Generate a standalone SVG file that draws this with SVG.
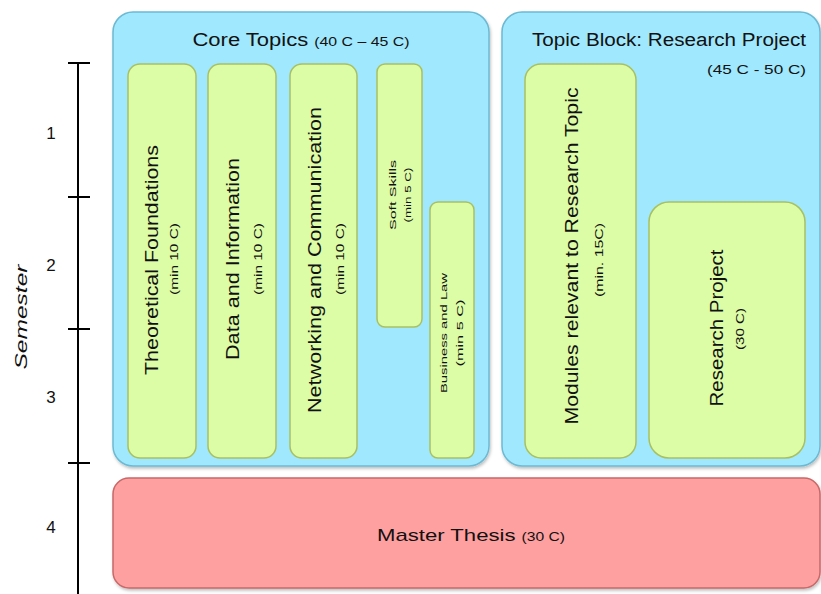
<svg xmlns="http://www.w3.org/2000/svg" width="821" height="594" viewBox="0 0 821 594">
<style>
text{font-family:"Liberation Sans","DejaVu Sans",sans-serif;fill:#111}
.cont{fill:#a0e8fd;stroke:#6cb9d3;stroke-width:1.5}
.mod{fill:#dcfca6;stroke:#a8c060;stroke-width:1.5}
.thesis{fill:#ffa0a0;stroke:#c86868;stroke-width:1.5}
.axis{stroke:#000;stroke-width:2;fill:none}
.big{font-size:18px}
.sub{font-size:11px}
.tiny{font-size:9px}
.num{font-size:17px}
</style>
<defs>
<filter id="sh" x="-5%" y="-5%" width="110%" height="110%">
<feDropShadow dx="1" dy="2" stdDeviation="1.5" flood-color="#000" flood-opacity="0.25"/>
</filter>
</defs>
<g id="axis">
<line class="axis" x1="78" y1="63" x2="78" y2="594"/>
<line class="axis" x1="68" y1="63" x2="90" y2="63"/>
<line class="axis" x1="68" y1="197" x2="90" y2="197"/>
<line class="axis" x1="68" y1="329" x2="90" y2="329"/>
<line class="axis" x1="68" y1="463" x2="90" y2="463"/>
<text class="num" x="51" y="139" text-anchor="middle">1</text>
<text class="num" x="51" y="271" text-anchor="middle">2</text>
<text class="num" x="51" y="403" text-anchor="middle">3</text>
<text class="num" x="51" y="533" text-anchor="middle">4</text>
<text x="0" y="0" font-size="17" font-style="italic" text-anchor="middle" textLength="105" lengthAdjust="spacingAndGlyphs" transform="translate(27,317) rotate(-90)">Semester</text>
</g>
<g id="core">
<rect class="cont" x="113" y="12" width="376" height="454" rx="20" filter="url(#sh)"/>
<text class="big" x="301" y="46" text-anchor="middle" textLength="217" lengthAdjust="spacingAndGlyphs">Core Topics <tspan font-size="13">(40 C – 45 C)</tspan></text>
</g>
<g id="research-block">
<rect class="cont" x="502" y="12" width="318" height="454" rx="20" filter="url(#sh)"/>
<text class="big" x="669" y="46" text-anchor="middle" textLength="274" lengthAdjust="spacingAndGlyphs">Topic Block: Research Project</text>
<text x="806" y="74" font-size="13" text-anchor="end" textLength="99" lengthAdjust="spacingAndGlyphs">(45 C - 50 C)</text>
</g>
<g id="theoretical">
<rect class="mod" x="128" y="64" width="68" height="394" rx="12"/>
<text class="big" text-anchor="middle" textLength="230" lengthAdjust="spacingAndGlyphs" transform="translate(158,260) rotate(-90)">Theoretical Foundations</text>
<text class="sub" text-anchor="middle" textLength="72" lengthAdjust="spacingAndGlyphs" transform="translate(178,259) rotate(-90)">(min 10 C)</text>
</g>
<g id="data">
<rect class="mod" x="208" y="64" width="68" height="394" rx="12"/>
<text class="big" text-anchor="middle" textLength="202" lengthAdjust="spacingAndGlyphs" transform="translate(239,259) rotate(-90)">Data and Information</text>
<text class="sub" text-anchor="middle" textLength="72" lengthAdjust="spacingAndGlyphs" transform="translate(262,259) rotate(-90)">(min 10 C)</text>
</g>
<g id="networking">
<rect class="mod" x="290" y="64" width="67" height="394" rx="12"/>
<text class="big" text-anchor="middle" textLength="306" lengthAdjust="spacingAndGlyphs" transform="translate(321,260) rotate(-90)">Networking and Communication</text>
<text class="sub" text-anchor="middle" textLength="72" lengthAdjust="spacingAndGlyphs" transform="translate(344,259) rotate(-90)">(min 10 C)</text>
</g>
<g id="softskills">
<rect class="mod" x="377" y="64" width="45" height="263" rx="8"/>
<text class="tiny" text-anchor="middle" textLength="70" lengthAdjust="spacingAndGlyphs" transform="translate(396,195) rotate(-90)">Soft Skills</text>
<text class="tiny" text-anchor="middle" textLength="55" lengthAdjust="spacingAndGlyphs" transform="translate(411,195) rotate(-90)">(min 5 C)</text>
</g>
<g id="business">
<rect class="mod" x="430" y="202" width="44" height="256" rx="8"/>
<text class="tiny" text-anchor="middle" textLength="120" lengthAdjust="spacingAndGlyphs" transform="translate(447,333) rotate(-90)">Business and Law</text>
<text class="tiny" text-anchor="middle" textLength="67" lengthAdjust="spacingAndGlyphs" transform="translate(463,333) rotate(-90)">(min 5 C)</text>
</g>
<g id="modules">
<rect class="mod" x="525" y="64" width="111" height="394" rx="16"/>
<text class="big" text-anchor="middle" textLength="337" lengthAdjust="spacingAndGlyphs" transform="translate(578,256) rotate(-90)">Modules relevant to Research Topic</text>
<text class="sub" text-anchor="middle" textLength="74" lengthAdjust="spacingAndGlyphs" transform="translate(603,260) rotate(-90)">(min. 15C)</text>
</g>
<g id="project">
<rect class="mod" x="649" y="202" width="156" height="256" rx="20"/>
<text class="big" text-anchor="middle" textLength="157" lengthAdjust="spacingAndGlyphs" transform="translate(723,328) rotate(-90)">Research Project</text>
<text class="sub" text-anchor="middle" textLength="42" lengthAdjust="spacingAndGlyphs" transform="translate(744,329) rotate(-90)">(30 C)</text>
</g>
<g id="thesis">
<rect class="thesis" x="113" y="478" width="707" height="110" rx="16" filter="url(#sh)"/>
<text x="471" y="541" font-size="17" text-anchor="middle" textLength="188" lengthAdjust="spacingAndGlyphs">Master Thesis <tspan font-size="12">(30 C)</tspan></text>
</g>
<g id="connectors"></g>
</svg>
